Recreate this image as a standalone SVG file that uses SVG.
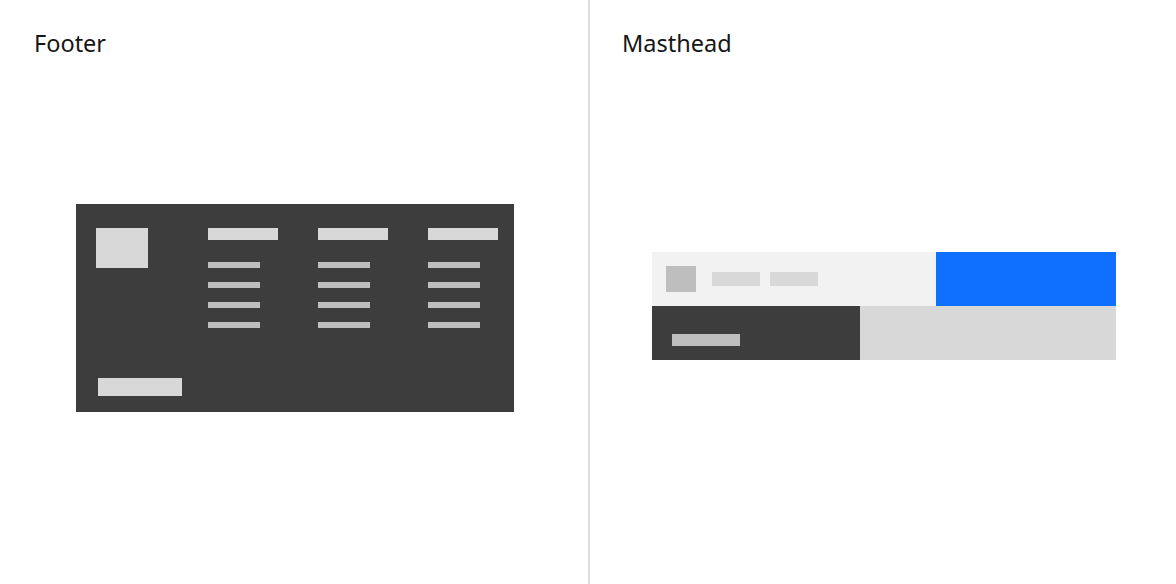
<svg xmlns="http://www.w3.org/2000/svg" width="1176" height="584" viewBox="0 0 1176 584">
  <style>
    .title { font-family: "Noto Sans", "Liberation Sans", sans-serif; font-size: 23.5px; fill: #161616; }
    .dark { fill: #3d3d3d; }
    .light { fill: #d8d8d8; }
    .mid { fill: #bebebe; }
  </style>
  <rect x="0" y="0" width="1176" height="584" fill="#ffffff"/>
  <g id="divider">
    <rect x="588" y="0" width="2" height="584" fill="#e0e0e0"/>
  </g>
  <g id="footer">
    <text class="title" x="34" y="52">Footer</text>
    <rect class="dark" x="76" y="204" width="438" height="208"/>
    <rect class="light" x="96" y="228" width="52" height="40"/>
    <rect class="light" x="208" y="228" width="70" height="12"/>
    <rect class="light" x="318" y="228" width="70" height="12"/>
    <rect class="light" x="428" y="228" width="70" height="12"/>
    <g class="mid">
      <rect x="208" y="262" width="52" height="6"/>
      <rect x="208" y="282" width="52" height="6"/>
      <rect x="208" y="302" width="52" height="6"/>
      <rect x="208" y="322" width="52" height="6"/>
      <rect x="318" y="262" width="52" height="6"/>
      <rect x="318" y="282" width="52" height="6"/>
      <rect x="318" y="302" width="52" height="6"/>
      <rect x="318" y="322" width="52" height="6"/>
      <rect x="428" y="262" width="52" height="6"/>
      <rect x="428" y="282" width="52" height="6"/>
      <rect x="428" y="302" width="52" height="6"/>
      <rect x="428" y="322" width="52" height="6"/>
    </g>
    <rect class="light" x="98" y="378" width="84" height="18"/>
  </g>
  <g id="masthead">
    <text class="title" x="622" y="52">Masthead</text>
    <rect x="652" y="252" width="284" height="54" fill="#f2f2f2"/>
    <rect x="936" y="252" width="180" height="54" fill="#0f6fff"/>
    <rect class="mid" x="666" y="266" width="30" height="26"/>
    <rect class="light" x="712" y="272" width="48" height="14"/>
    <rect class="light" x="770" y="272" width="48" height="14"/>
    <rect class="dark" x="652" y="306" width="208" height="54"/>
    <rect class="light" x="860" y="306" width="256" height="54"/>
    <rect class="mid" x="672" y="334" width="68" height="12"/>
  </g>
</svg>
